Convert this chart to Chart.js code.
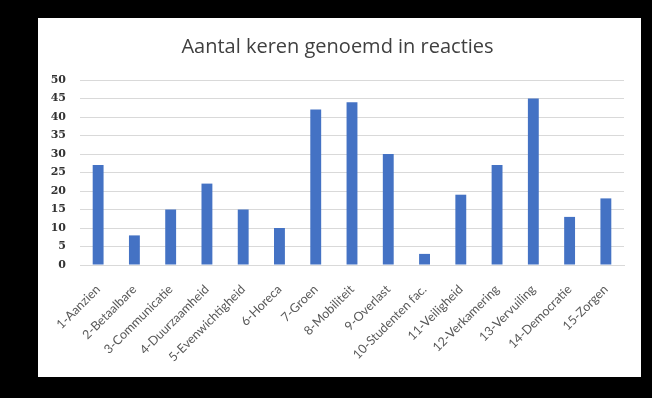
<!DOCTYPE html>
<html>
<head>
<meta charset="utf-8">
<script src="https://cdn.jsdelivr.net/npm/chart.js@4"></script>
<style>
  body { margin: 0; background: #000; width: 652px; height: 398px; overflow: hidden; }
  #panel { position: absolute; left: 38px; top: 18px; width: 603px; height: 359px; background: #fff; }
</style>
</head>
<body>
<div id="panel"><canvas id="myChart" width="603" height="359"></canvas></div>
<script>
const categories = [
  "1-Aanzien", "2-Betaalbare", "3-Communicatie", "4-Duurzaamheid", "5-Evenwichtigheid",
  "6-Horeca", "7-Groen", "8-Mobiliteit", "9-Overlast", "10-Studenten fac.",
  "11-Veiligheid", "12-Verkamering", "13-Vervuiling", "14-Democratie", "15-Zorgen",
];
const counts = [27, 8, 15, 22, 15, 10, 42, 44, 30, 3, 19, 27, 45, 13, 18];
const chartTitle = "Aantal keren genoemd in reacties";

const ctx = document.getElementById("myChart");

new Chart(ctx, {
  type: "bar",
  data: {
    labels: categories,
    datasets: [
      {
        label: "Aantal",
        data: counts,
        backgroundColor: "#4472C4",
        borderWidth: 0,
        barPercentage: 0.6,
        categoryPercentage: 0.5,
      },
    ],
  },
  options: {
    responsive: false,
    animation: false,
    layout: {
      padding: { left: 13, right: 17, top: 17, bottom: 0 },
    },
    plugins: {
      legend: { display: false },
      tooltip: { enabled: false },
      title: {
        display: true,
        text: chartTitle,
        color: "#404040",
        font: { family: "Open Sans", size: 20, weight: "normal" },
        padding: { top: 0, bottom: 21 },
      },
    },
    scales: {
      y: {
        min: 0,
        max: 50,
        afterFit: (scale) => {
          scale.width = 29;
        },
        ticks: {
          stepSize: 5,
          color: "#333",
          padding: 14,
          font: { family: "DejaVu Serif", size: 11, weight: "bold" },
        },
        grid: { color: "#d9d9d9", drawTicks: false },
        border: { display: false },
      },
      x: {
        afterFit: (scale) => {
          // eerste label mag links uitsteken, zoals in Excel
          scale.paddingLeft = 0;
          scale.paddingRight = 0;
          scale.height = 112;
        },
        ticks: {
          color: "#595959",
          minRotation: 45,
          maxRotation: 45,
          padding: 9,
          font: { family: "Lato", size: 12.5 },
        },
        grid: { display: false },
        border: { color: "#d9d9d9" },
      },
    },
  },
});
</script>
</body>
</html>
